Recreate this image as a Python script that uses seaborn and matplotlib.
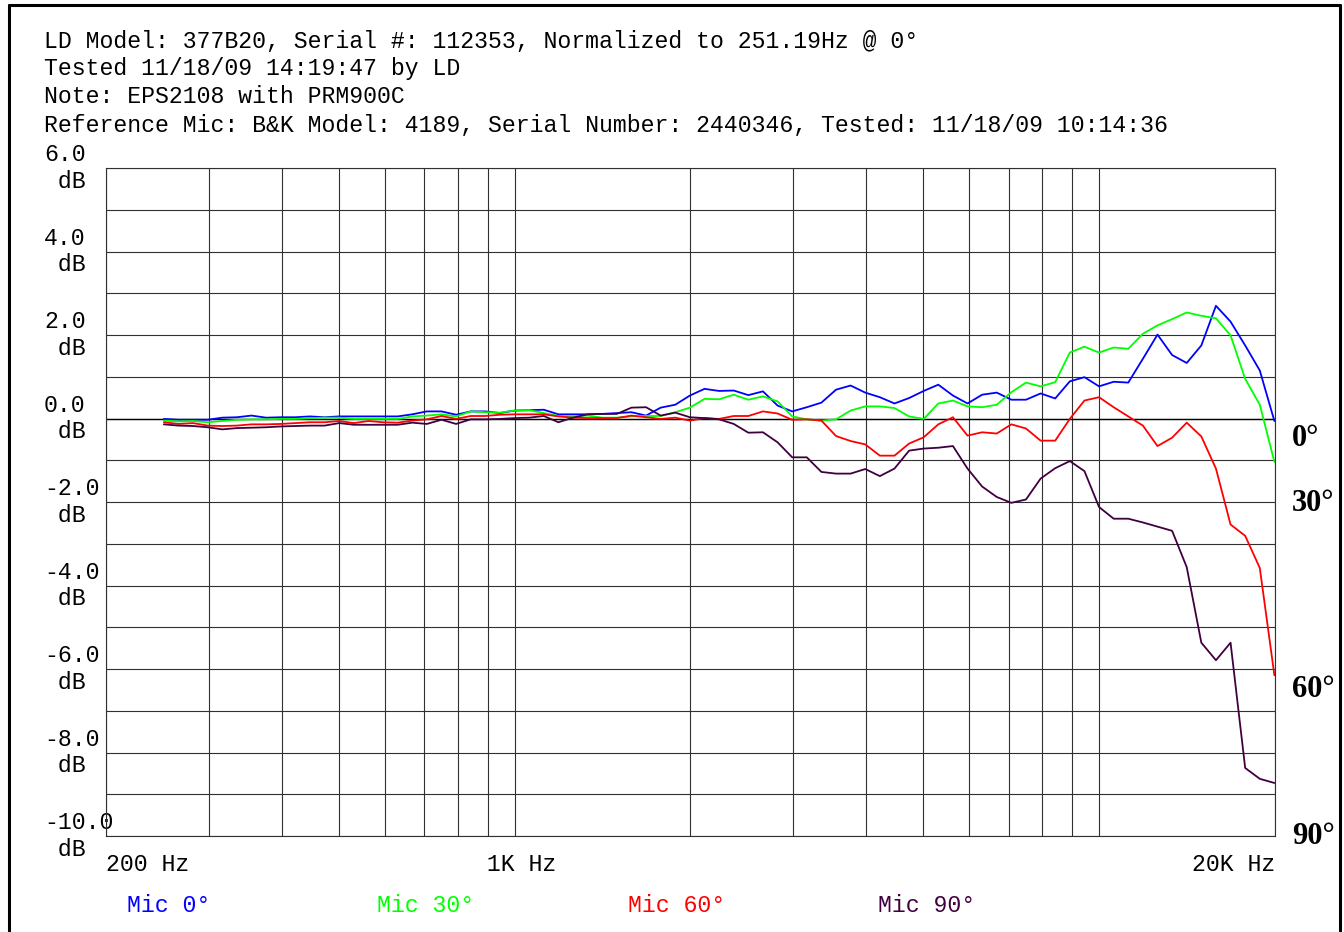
import matplotlib
matplotlib.use("Agg")
import matplotlib.pyplot as plt
import matplotlib.transforms as mtransforms
from matplotlib.lines import Line2D
from matplotlib.ticker import NullFormatter
import pandas as pd
import seaborn as sns

# 1/12-octave measurement frequencies (Hz)
freqs = [
    251.19, 266.07, 281.84, 298.54, 316.23, 334.97, 354.81, 375.84, 398.11, 421.70,
    446.68, 473.15, 501.19, 530.88, 562.34, 595.66, 630.96, 668.34, 707.95, 749.89,
    794.33, 841.40, 891.25, 944.06, 1000.00, 1059.25, 1122.02, 1188.50, 1258.93, 1333.52,
    1412.54, 1496.24, 1584.89, 1678.80, 1778.28, 1883.65, 1995.26, 2113.49, 2238.72, 2371.37,
    2511.89, 2660.73, 2818.38, 2985.38, 3162.28, 3349.65, 3548.13, 3758.37, 3981.07, 4216.97,
    4466.84, 4731.51, 5011.87, 5308.84, 5623.41, 5956.62, 6309.57, 6683.44, 7079.46, 7498.94,
    7943.28, 8413.95, 8912.51, 9440.61, 10000.00, 10592.54, 11220.18, 11885.02, 12589.25, 13335.21,
    14125.38, 14962.36, 15848.93, 16788.04, 17782.79, 18836.49, 19952.62,
]

# Relative response (dB) for each incidence angle
mic_0 = [
    -0.01, -0.03, -0.03, -0.03, 0.02, 0.03, 0.07, 0.02, 0.03, 0.03,
    0.05, 0.03, 0.05, 0.05, 0.05, 0.05, 0.05, 0.10, 0.17, 0.17,
    0.09, 0.17, 0.17, 0.13, 0.19, 0.20, 0.21, 0.10, 0.10, 0.10,
    0.11, 0.13, 0.15, 0.07, 0.26, 0.33, 0.55, 0.71, 0.66, 0.67,
    0.56, 0.65, 0.31, 0.17, 0.27, 0.38, 0.69, 0.79, 0.62, 0.51,
    0.36, 0.49, 0.66, 0.81, 0.55, 0.36, 0.57, 0.62, 0.45, 0.45,
    0.60, 0.48, 0.89, 0.99, 0.77, 0.88, 0.86, 1.43, 2.01, 1.52,
    1.33, 1.75, 2.70, 2.32, 1.75, 1.15, -0.06,
]
mic_30 = [
    -0.05, -0.07, -0.06, -0.09, -0.06, -0.03, -0.02, -0.02, -0.01, -0.01,
    0.01, 0.02, 0.02, -0.01, -0.01, -0.01, -0.01, 0.05, 0.07, 0.10,
    0.05, 0.17, 0.15, 0.14, 0.19, 0.20, 0.13, 0.06, 0.05, 0.07,
    0.02, 0.02, 0.05, 0.06, 0.06, 0.15, 0.26, 0.47, 0.46, 0.57,
    0.45, 0.53, 0.41, 0.05, -0.02, -0.05, -0.02, 0.19, 0.29, 0.29,
    0.25, 0.05, -0.01, 0.36, 0.43, 0.29, 0.27, 0.33, 0.63, 0.86,
    0.77, 0.87, 1.58, 1.72, 1.58, 1.70, 1.67, 2.03, 2.23, 2.38,
    2.54, 2.46, 2.40, 1.99, 0.95, 0.33, -1.04,
]
mic_60 = [
    -0.09, -0.13, -0.11, -0.17, -0.18, -0.17, -0.14, -0.14, -0.13, -0.11,
    -0.09, -0.09, -0.06, -0.11, -0.06, -0.09, -0.10, -0.05, -0.02, 0.06,
    -0.01, 0.06, 0.06, 0.09, 0.10, 0.10, 0.10, 0.05, 0.02, 0.01,
    0.01, 0.01, 0.07, 0.03, -0.01, 0.02, -0.05, 0.01, -0.01, 0.06,
    0.06, 0.17, 0.12, -0.03, -0.02, -0.05, -0.42, -0.54, -0.62, -0.89,
    -0.89, -0.60, -0.45, -0.14, 0.03, -0.41, -0.33, -0.36, -0.14, -0.24,
    -0.53, -0.53, -0.01, 0.43, 0.51, 0.27, 0.05, -0.17, -0.66, -0.46,
    -0.10, -0.43, -1.20, -2.54, -2.81, -3.58, -6.15,
]
mic_90 = [
    -0.14, -0.17, -0.18, -0.21, -0.26, -0.23, -0.22, -0.21, -0.19, -0.18,
    -0.17, -0.17, -0.11, -0.15, -0.15, -0.15, -0.15, -0.10, -0.13, -0.03,
    -0.13, -0.02, -0.02, -0.01, 0.01, 0.02, 0.06, -0.09, 0.02, 0.10,
    0.11, 0.11, 0.26, 0.27, 0.07, 0.14, 0.03, 0.01, -0.02, -0.13,
    -0.34, -0.33, -0.57, -0.93, -0.93, -1.28, -1.32, -1.32, -1.21, -1.38,
    -1.20, -0.77, -0.72, -0.70, -0.66, -1.20, -1.63, -1.88, -2.02, -1.94,
    -1.44, -1.19, -1.02, -1.26, -2.12, -2.40, -2.40, -2.49, -2.59, -2.69,
    -3.56, -5.37, -5.79, -5.37, -8.37, -8.63, -8.73,
]

series_names = ["Mic 0°", "Mic 30°", "Mic 60°", "Mic 90°"]
series_colors = ["#0000FF", "#00FF00", "#FF0000", "#400040"]

header_lines = [
    "LD Model: 377B20, Serial #: 112353, Normalized to 251.19Hz @ 0°",
    "Tested 11/18/09 14:19:47 by LD",
    "Note: EPS2108 with PRM900C",
    "Reference Mic: B&K Model: 4189, Serial Number: 2440346, Tested: 11/18/09 10:14:36",
]

x_major_ticks = [200, 1000, 20000]
x_major_labels = ["200 Hz", " 1K Hz", "20K Hz"]
x_minor_ticks = [300, 400, 500, 600, 700, 800, 900,
                 2000, 3000, 4000, 5000, 6000, 7000, 8000, 9000, 10000]
y_major_ticks = [6, 4, 2, 0, -2, -4, -6, -8, -10]
y_major_labels = ["6.0\n dB", "4.0\n dB", "2.0\n dB", "0.0\n dB", "-2.0\n dB",
                  "-4.0\n dB", "-6.0\n dB", "-8.0\n dB", "-10.0\n dB"]
y_minor_ticks = [5, 3, 1, -1, -3, -5, -7, -9]

angle_labels = ["0°", "30°", "60°", "90°"]
angle_label_levels = [-0.48, -2.03, -6.5, -10.0]

sns.set_style("white")
plt.rcParams["font.family"] = ["Liberation Mono", "DejaVu Sans Mono"]

W, H = 1344, 932
fig = plt.figure(figsize=(W / 100, H / 100), dpi=100)
fig.patch.set_facecolor("white")
ax = fig.add_axes([106 / W, (H - 836) / H, 1169 / W, 668 / H])

frames = []
for name, vals in zip(series_names, [mic_0, mic_30, mic_60, mic_90]):
    frames.append(pd.DataFrame({"freq": freqs, "level": vals, "mic": name}))
df = pd.concat(frames, ignore_index=True)

grid_color = "#303030"
ax.set_xscale("log")
ax.set_xlim(200, 20000)
ax.set_ylim(-10, 6)

ax.set_xticks(x_major_ticks)
ax.set_xticklabels(x_major_labels)
ax.set_xticks(x_minor_ticks, minor=True)
ax.xaxis.set_minor_formatter(NullFormatter())
ax.set_yticks(y_major_ticks)
ax.set_yticklabels(y_major_labels)
ax.set_yticks(y_minor_ticks, minor=True)
ax.grid(True, which="both", color=grid_color, linewidth=0.8)
ax.set_axisbelow(True)

sns.lineplot(data=df, x="freq", y="level", hue="mic", hue_order=series_names,
             palette=series_colors, legend=False, linewidth=1.3,
             estimator=None, sort=False, ax=ax)
ax.axhline(0, color="black", linewidth=1.0, zorder=1)

ax.set_xlabel("")
ax.set_ylabel("")
for sp in ax.spines.values():
    sp.set_color(grid_color)
    sp.set_linewidth(0.8)

text_size = 16.7
ax.tick_params(axis="both", which="both", length=0, labelsize=text_size, colors="black")
ax.tick_params(axis="x", pad=12)
ax.tick_params(axis="y", pad=(106 - 44) * 0.72)
for lab in ax.get_yticklabels():
    lab.set_horizontalalignment("left")
    lab.set_verticalalignment("center")
    lab.set_linespacing(1.2)
for lab, ha in zip(ax.get_xticklabels(), ["left", "center", "right"]):
    lab.set_horizontalalignment(ha)

# angle markers at the right of the plot
tr = mtransforms.blended_transform_factory(ax.transAxes, ax.transData)
for txt, lvl in zip(angle_labels, angle_label_levels):
    ax.text(1.0145, lvl, txt, transform=tr, ha="left", va="center",
            fontsize=22, fontweight="bold", family="Liberation Serif",
            color="black", clip_on=False)

# header block
for i, line in enumerate(header_lines):
    fig.text(44 / W, 1 - (41 + 28 * i) / H, line, ha="left", va="center",
             fontsize=text_size, color="black")

# colour key along the bottom
for i, (name, col) in enumerate(zip(series_names, series_colors)):
    fig.text((127 + 250.5 * i) / W, 1 - 905 / H, name, ha="left", va="center",
             fontsize=text_size, color=col)

# outer frame
lw_frame = 2.2
fig.add_artist(Line2D([9 / W, 9 / W], [0, 1 - 5 / H], color="black", linewidth=lw_frame,
                      transform=fig.transFigure))
fig.add_artist(Line2D([9 / W, 1340 / W], [1 - 5 / H, 1 - 5 / H], color="black",
                      linewidth=lw_frame, transform=fig.transFigure))
fig.add_artist(Line2D([1340 / W, 1340 / W], [0, 1 - 5 / H], color="black", linewidth=lw_frame,
                      transform=fig.transFigure))

fig.savefig("out.png", dpi=100, facecolor="white")
